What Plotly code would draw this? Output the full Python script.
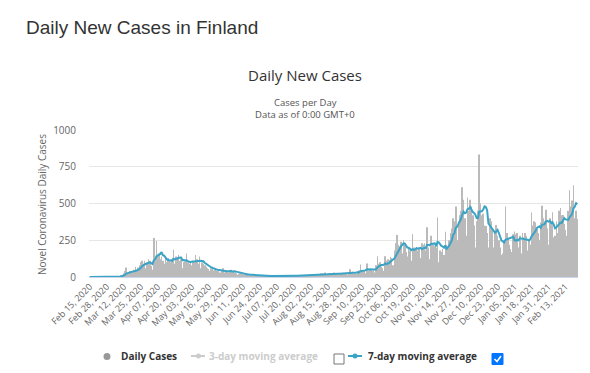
import plotly.graph_objects as go
import pandas as pd

# ---------------- data ----------------
start_date = "2020-02-15"
daily_cases = [
    0, 0, 0, 0, 0, 0, 0,
    0, 0, 0, 0, 1, 0, 0,
    0, 1, 0, 0, 0, 3, 6,
    4, 3, 3, 10, 15, 25, 40,
    64, 25, 30, 40, 30, 40, 50,
    70, 40, 65, 80, 100, 110, 90,
    110, 60, 100, 120, 110, 75, 50,
    265, 110, 245, 150, 160, 120, 140,
    110, 90, 120, 100, 130, 110, 100,
    120, 185, 90, 140, 130, 150, 110,
    120, 60, 100, 105, 160, 100, 90,
    95, 80, 110, 100, 150, 120, 90,
    140, 60, 100, 90, 80, 70, 60,
    55, 40, 60, 70, 45, 50, 40,
    40, 30, 30, 45, 60, 30, 35,
    40, 30, 45, 50, 35, 40, 30,
    25, 15, 20, 25, 18, 20, 15,
    15, 10, 20, 18, 12, 15, 10,
    10, 5, 12, 10, 8, 10, 8,
    7, 3, 8, 6, 8, 7, 5,
    5, 2, 6, 5, 7, 4, 5,
    4, 3, 8, 6, 5, 7, 6,
    8, 4, 12, 10, 9, 8, 10,
    12, 6, 10, 14, 12, 15, 10,
    15, 8, 18, 20, 15, 17, 14,
    20, 12, 25, 28, 22, 30, 20,
    18, 15, 28, 25, 22, 30, 20,
    20, 12, 25, 28, 22, 25, 20,
    25, 15, 30, 53, 25, 35, 22,
    30, 20, 40, 45, 85, 45, 35,
    40, 25, 92, 45, 50, 55, 40,
    55, 30, 80, 142, 90, 100, 70,
    60, 40, 142, 110, 120, 115, 137,
    130, 80, 180, 230, 285, 220, 210,
    240, 160, 250, 230, 170, 140, 200,
    180, 110, 292, 200, 190, 200, 180,
    200, 130, 230, 220, 230, 180, 338,
    200, 120, 281, 230, 220, 210, 200,
    404, 100, 180, 170, 190, 150, 308,
    220, 200, 250, 300, 330, 400, 380,
    480, 250, 380, 420, 450, 610, 525,
    400, 280, 541, 450, 525, 480, 420,
    350, 200, 380, 450, 833, 500, 420,
    430, 350, 347, 300, 200, 400, 380,
    330, 200, 300, 354, 280, 250, 200,
    150, 160, 250, 480, 300, 260, 220,
    190, 170, 290, 310, 290, 300, 200,
    280, 160, 300, 270, 300, 280, 180,
    250, 220, 438, 350, 380, 370, 330,
    300, 250, 370, 484, 400, 380, 457,
    330, 220, 400, 380, 440, 270, 280,
    380, 300, 450, 470, 420, 422, 360,
    320, 280, 450, 590, 480, 520, 625,
    400, 450, 395,
]
y_ticks = [0, 250, 500, 750, 1000]
tick_step = 13

dates = pd.date_range(start_date, periods=len(daily_cases), freq="D")
categories = [d.strftime("%b %d, %Y") for d in dates]
ma7 = pd.Series(daily_cases).rolling(7, min_periods=1).mean().tolist()
ma3 = pd.Series(daily_cases).rolling(3, min_periods=1).mean().tolist()
tick_labels = categories[::tick_step]

# ---------------- layout helpers ----------------
W, H = 590, 373
ML, MR, MT, MB = 89, 12, 130, 96
PW, PH = W - ML - MR, H - MT - MB


def px(x):
    return (x - ML) / PW


def py(y):
    return (H - MB - y) / PH


FONT = "Open Sans"
LINE_COLOR = "#3ba3c6"
BAR_COLOR = "#bababa"

fig = go.Figure()
fig.add_trace(go.Bar(x=categories, y=daily_cases, marker_color=BAR_COLOR,
                     marker_line_width=0, name="Daily Cases"))
fig.add_trace(go.Scatter(x=categories, y=ma3, mode="lines", visible=False,
                         line=dict(color="#cccccc", width=2), name="3-day moving average"))
fig.add_trace(go.Scatter(x=categories, y=ma7, mode="lines",
                         line=dict(color=LINE_COLOR, width=2), name="7-day moving average"))

annotations = [
    dict(text="Daily New Cases in Finland", x=px(24), y=py(27), xanchor="left", yanchor="middle",
         font=dict(family="Liberation Sans", size=19, color="#333333")),
    dict(text="Daily New Cases", x=px(305), y=py(75), xanchor="center", yanchor="middle",
         font=dict(family=FONT, size=15, color="#333333")),
    dict(text="Cases per Day", x=px(305), y=py(102), xanchor="center", yanchor="middle",
         font=dict(family=FONT, size=9.5, color="#555555")),
    dict(text="Data as of 0:00 GMT+0", x=px(305), y=py(114.5), xanchor="center", yanchor="middle",
         font=dict(family=FONT, size=9.5, color="#555555")),
    dict(text="Novel Coronavirus Daily Cases", x=px(42), y=py(205), textangle=-90,
         xanchor="center", yanchor="middle", font=dict(family=FONT, size=10, color="#666666")),
    # legend texts
    dict(text="<b>Daily Cases</b>", x=px(119), y=py(356), xanchor="left", yanchor="middle",
         font=dict(family=FONT, size=10, color="#333333")),
    dict(text="<b>3-day moving average</b>", x=px(207), y=py(356), xanchor="left", yanchor="middle",
         font=dict(family=FONT, size=10, color="#cccccc")),
    dict(text="<b>7-day moving average</b>", x=px(366), y=py(356), xanchor="left", yanchor="middle",
         font=dict(family=FONT, size=10, color="#333333")),
]
for a in annotations:
    a.update(xref="paper", yref="paper", showarrow=False)

shapes = [
    # daily cases marker
    dict(type="circle", x0=px(103.5), x1=px(110.5), y0=py(360), y1=py(353),
         fillcolor="#999999", line=dict(width=0)),
    # 3-day symbol
    dict(type="line", x0=px(191), x1=px(205), y0=py(356), y1=py(356),
         line=dict(color="#cccccc", width=2)),
    dict(type="circle", x0=px(196), x1=px(201), y0=py(358.5), y1=py(353.5),
         fillcolor="#cccccc", line=dict(width=0)),
    # unchecked checkbox
    dict(type="rect", x0=px(334), x1=px(344), y0=py(364), y1=py(354),
         fillcolor="white", line=dict(color="#767676", width=1)),
    # 7-day symbol
    dict(type="line", x0=px(348), x1=px(362), y0=py(356), y1=py(356),
         line=dict(color=LINE_COLOR, width=2)),
    dict(type="circle", x0=px(352.5), x1=px(357.5), y0=py(358.5), y1=py(353.5),
         fillcolor=LINE_COLOR, line=dict(width=0)),
    # checked checkbox
    dict(type="rect", x0=px(492), x1=px(503), y0=py(364.5), y1=py(353.5),
         fillcolor="#0075ff", line=dict(color="#0075ff", width=1)),
    dict(type="path",
         path=f"M {px(494.5)} {py(359)} L {px(497)} {py(361.5)} L {px(501)} {py(356)}",
         line=dict(color="white", width=1.6)),
]
for s in shapes:
    s.update(xref="paper", yref="paper")

fig.update_layout(
    width=W, height=H,
    margin=dict(l=ML, r=MR, t=MT, b=MB, pad=0),
    paper_bgcolor="white", plot_bgcolor="white",
    showlegend=False,
    bargap=0.55,
    annotations=annotations,
    shapes=shapes,
    xaxis=dict(
        type="category", range=[-0.5, len(categories) - 0.5],
        tickmode="array", tickvals=tick_labels, ticktext=tick_labels,
        tickangle=-45, tickfont=dict(family=FONT, size=9, color="#666666"),
        showgrid=False, showline=True, linecolor="#ccd6eb", linewidth=1,
        ticks="", fixedrange=True,
    ),
    yaxis=dict(
        range=[0, 1000], tickvals=y_ticks,
        tickfont=dict(family=FONT, size=10, color="#666666"),
        showgrid=True, gridcolor="#e6e6e6", gridwidth=1, zeroline=False,
        ticklabelstandoff=12, fixedrange=True,
    ),
)

fig.write_html("out.html", config={"displayModeBar": False},
               post_script="document.body.style.margin='0px';document.body.style.overflow='hidden';")
